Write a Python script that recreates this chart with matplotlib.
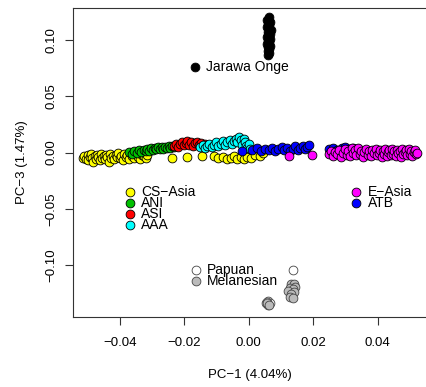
import matplotlib.pyplot as plt

plt.rcParams["font.family"] = ["Liberation Sans", "DejaVu Sans"]

# PCA coordinates (PC-1, PC-3) per population group
cs_asia_x = [-0.0515, -0.0510, -0.0505, -0.0500, -0.0498, -0.0493, -0.0490, -0.0485, -0.0482, -0.0478,
             -0.0475, -0.0470, -0.0466, -0.0462, -0.0458, -0.0455, -0.0450, -0.0446, -0.0442, -0.0438,
             -0.0434, -0.0430, -0.0426, -0.0421, -0.0417, -0.0412, -0.0408, -0.0404, -0.0399, -0.0395,
             -0.0390, -0.0386, -0.0381, -0.0376, -0.0372, -0.0366, -0.0361, -0.0356, -0.0350, -0.0344,
             -0.0338, -0.0332, -0.0326, -0.0320, -0.0315,
             -0.0238, -0.0190, -0.0145, -0.0108, -0.0095, -0.0080, -0.0068, -0.0055, -0.0045, -0.0035,
             -0.0025, -0.0015, -0.0005, 0.0006, 0.0020, 0.0035, 0.0045]
cs_asia_y = [-0.005, -0.003, -0.006, -0.002, -0.007, -0.004, -0.001, -0.005, -0.008, -0.003,
             -0.006, -0.002, -0.004, -0.007, -0.001, -0.005, -0.003, -0.006, -0.002, -0.004,
             -0.008, -0.001, -0.005, -0.003, -0.006, -0.002, -0.004, 0.000, -0.005, -0.003,
             -0.007, -0.001, -0.004, -0.002, -0.006, 0.000, -0.003, -0.005, -0.001, -0.004,
             -0.006, -0.002, -0.003, -0.005, -0.002,
             -0.0044, -0.0036, -0.0027, -0.0030, -0.0050, -0.0035, -0.0060, -0.0045, -0.0030, -0.0055,
             -0.0040, -0.0060, -0.0035, -0.0045, -0.0020, -0.0030, -0.0008]

ani_x = [-0.0370, -0.0362, -0.0355, -0.0348, -0.0340, -0.0333, -0.0326, -0.0320, -0.0314, -0.0308,
         -0.0302, -0.0297, -0.0291, -0.0286, -0.0280, -0.0275, -0.0270, -0.0265, -0.0259, -0.0254,
         -0.0248, -0.0243, -0.0238, -0.0232]
ani_y = [0.0005, -0.0010, 0.0015, 0.0000, 0.0020, 0.0008, 0.0025, 0.0012, 0.0030, 0.0018,
         0.0040, 0.0025, 0.0045, 0.0030, 0.0050, 0.0035, 0.0048, 0.0028, 0.0052, 0.0038,
         0.0055, 0.0042, 0.0060, 0.0046]

asi_x = [-0.0232, -0.0226, -0.0220, -0.0214, -0.0208, -0.0202, -0.0196, -0.0190, -0.0184, -0.0178,
         -0.0172, -0.0166, -0.0160, -0.0154, -0.0148, -0.0142, -0.0136]
asi_y = [0.0060, 0.0080, 0.0050, 0.0075, 0.0095, 0.0065, 0.0085, 0.0100, 0.0070, 0.0090,
         0.0060, 0.0082, 0.0095, 0.0068, 0.0085, 0.0058, 0.0075]

aaa_x = [-0.0150, -0.0143, -0.0136, -0.0129, -0.0122, -0.0115, -0.0108, -0.0101, -0.0094, -0.0087,
         -0.0080, -0.0073, -0.0066, -0.0059, -0.0052, -0.0045, -0.0040, -0.0035, -0.0030, -0.0025,
         -0.0020, -0.0016, -0.0012, -0.0008, -0.0004, 0.0000, 0.0005]
aaa_y = [0.0050, 0.0070, 0.0040, 0.0060, 0.0080, 0.0050, 0.0070, 0.0090, 0.0060, 0.0080,
         0.0100, 0.0070, 0.0090, 0.0110, 0.0080, 0.0100, 0.0125, 0.0090, 0.0140, 0.0110,
         0.0070, 0.0125, 0.0095, 0.0060, 0.0040, 0.0080, 0.0030]

atb_x = [-0.0020, 0.0010, 0.0025, 0.0038, 0.0050, 0.0062, 0.0072, 0.0082, 0.0092, 0.0102,
         0.0110, 0.0120, 0.0128, 0.0137, 0.0145, 0.0153, 0.0160, 0.0168, 0.0175, 0.0182,
         0.0188,
         0.0250, 0.0262, 0.0275, 0.0288, 0.0300, 0.0312, 0.0325, 0.0338]
atb_y = [0.0010, 0.0025, 0.0040, 0.0015, 0.0035, 0.0020, 0.0045, 0.0010, 0.0030, 0.0050,
         0.0020, 0.0040, 0.0015, 0.0035, 0.0055, 0.0025, 0.0045, 0.0060, 0.0030, 0.0050,
         0.0068,
         0.0030, 0.0045, 0.0025, 0.0040, 0.0050, 0.0030, 0.0045, 0.0035]

e_asia_x = [0.0124, 0.0195,
            0.0250, 0.0255, 0.0262, 0.0268, 0.0274, 0.0280, 0.0286, 0.0292, 0.0298, 0.0304,
            0.0309, 0.0314, 0.0319, 0.0324, 0.0329, 0.0334, 0.0339, 0.0344, 0.0349, 0.0354,
            0.0359, 0.0364, 0.0369, 0.0374, 0.0379, 0.0384, 0.0389, 0.0394, 0.0399, 0.0404,
            0.0408, 0.0412, 0.0416, 0.0420, 0.0424, 0.0428, 0.0432, 0.0436, 0.0440, 0.0444,
            0.0448, 0.0452, 0.0456, 0.0460, 0.0464, 0.0468, 0.0472, 0.0476, 0.0480, 0.0484,
            0.0488, 0.0492, 0.0496, 0.0500, 0.0504, 0.0508, 0.0512, 0.0516, 0.0519, 0.0521]
e_asia_y = [-0.0027, -0.0018,
            -0.0010, 0.0015, -0.0030, 0.0005, -0.0015, 0.0025, -0.0035, 0.0000, 0.0030, -0.0020,
            0.0010, -0.0030, 0.0040, -0.0005, 0.0020, -0.0025, 0.0045, -0.0010, 0.0015, -0.0035,
            0.0005, 0.0030, -0.0020, 0.0010, -0.0030, 0.0025, -0.0005, 0.0035, -0.0025, 0.0000,
            0.0020, -0.0035, 0.0010, -0.0015, 0.0030, -0.0030, 0.0005, 0.0020, -0.0020, 0.0035,
            -0.0010, 0.0015, -0.0030, 0.0025, -0.0005, 0.0010, -0.0035, 0.0030, -0.0015, 0.0005,
            0.0020, -0.0025, 0.0030, -0.0010, 0.0015, -0.0030, 0.0005, 0.0020, -0.0015, 0.0000]

jarawa_x = [0.0062, 0.0058, 0.0066, 0.0060, 0.0064, 0.0057, 0.0063, 0.0068, 0.0059, 0.0065,
            0.0061, 0.0056, 0.0067, 0.0060, 0.0063, 0.0058, 0.0066, 0.0061, 0.0064, 0.0059,
            0.0062, 0.0060]
jarawa_y = [0.1200, 0.1180, 0.1160, 0.1145, 0.1130, 0.1115, 0.1100, 0.1085, 0.1070, 0.1055,
            0.1040, 0.1025, 0.1010, 0.0995, 0.0980, 0.0965, 0.0950, 0.0935, 0.0920, 0.0900,
            0.0880, 0.0870]

papuan_x = [0.0136, 0.0060, 0.0055, 0.0066, 0.0061, 0.0058]
papuan_y = [-0.1040, -0.1320, -0.1340, -0.1338, -0.1355, -0.1328]

melanesian_x = [0.0130, 0.0140, 0.0145, 0.0128, 0.0136, 0.0122, 0.0142, 0.0132, 0.0128, 0.0136,
                0.0058, 0.0064]
melanesian_y = [-0.1165, -0.1170, -0.1195, -0.1200, -0.1215, -0.1230, -0.1235, -0.1255, -0.1280, -0.1295,
                -0.1335, -0.1350]

groups = [
    ("CS\u2212Asia", cs_asia_x, cs_asia_y, "#FFFF00", "black"),
    ("ANI", ani_x, ani_y, "#00C000", "black"),
    ("ASI", asi_x, asi_y, "#FF0000", "black"),
    ("AAA", aaa_x, aaa_y, "#00FFFF", "black"),
    ("ATB", atb_x, atb_y, "#0000FF", "black"),
    ("E\u2212Asia", e_asia_x, e_asia_y, "#FF00FF", "black"),
    ("Jarawa Onge", jarawa_x, jarawa_y, "black", "black"),
    ("Papuan", papuan_x, papuan_y, "white", "#444444"),
    ("Melanesian", melanesian_x, melanesian_y, "#BBBBBB", "#444444"),
]
style = {name: (fc, ec) for name, _, _, fc, ec in groups}

fig = plt.figure(figsize=(4.26, 3.87), dpi=100)
ax = fig.add_axes([73 / 426, 1 - 317 / 387, 1 - 73 / 426, 309 / 387])

msize = 40
for name, xs, ys, fc, ec in groups:
    ax.scatter(xs, ys, s=msize, c=fc, edgecolors=ec, linewidths=0.6, zorder=3)

# legend blocks drawn inside the plot region
legend_blocks = [
    (-0.0167, 0.0760, ["Jarawa Onge"]),
    (-0.0368, -0.0347, ["CS\u2212Asia", "ANI", "ASI", "AAA"]),
    (0.0334, -0.0347, ["E\u2212Asia", "ATB"]),
    (-0.0164, -0.1040, ["Papuan", "Melanesian"]),
]
step = 0.0098
for x0, y0, names in legend_blocks:
    for i, name in enumerate(names):
        fc, ec = style[name]
        yy = y0 - i * step
        ax.scatter([x0], [yy], s=msize, c=fc, edgecolors=ec, linewidths=0.6, zorder=3)
        ax.text(x0 + 0.0035, yy, name, fontsize=10, va="center", ha="left")

ax.set_xlim(-0.0545, 0.0550)
ax.set_ylim(-0.146, 0.1284)
ax.set_xticks([-0.04, -0.02, 0.00, 0.02, 0.04])
ax.set_xticklabels(["\u22120.04", "\u22120.02", "0.00", "0.02", "0.04"])
ax.set_yticks([-0.10, -0.05, 0.00, 0.05, 0.10])
ax.set_yticklabels(["\u22120.10", "\u22120.05", "0.00", "0.05", "0.10"],
                   rotation=90, va="center")
ax.tick_params(axis="both", direction="out", length=5.5, width=0.8,
               labelsize=9.5, color="#333333")
ax.tick_params(axis="x", pad=9)
ax.tick_params(axis="y", pad=6)
ax.spines["right"].set_visible(False)
for sp in ["left", "bottom", "top"]:
    ax.spines[sp].set_linewidth(0.8)
    ax.spines[sp].set_color("#333333")

ax.set_xlabel("PC\u22121 (4.04%)", fontsize=9.5, labelpad=14)
ax.set_ylabel("PC\u22123 (1.47%)", fontsize=9.5, labelpad=12)

fig.savefig("out.png", dpi=100)
